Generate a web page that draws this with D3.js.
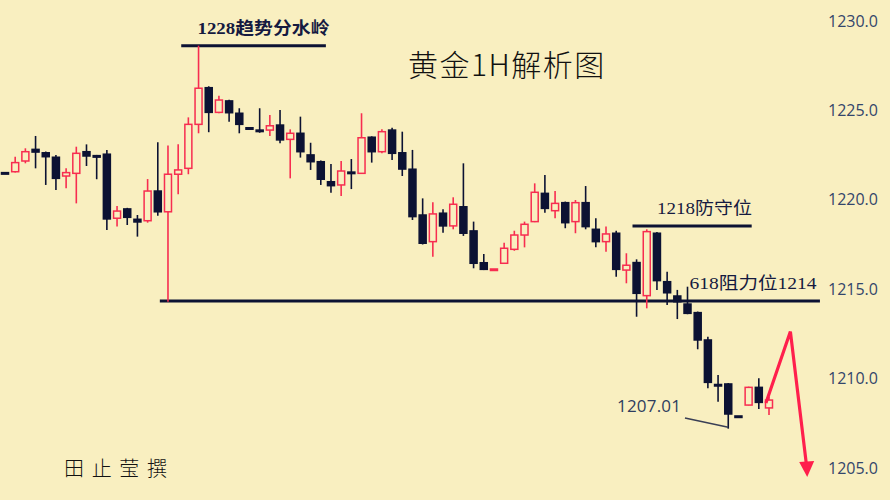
<!DOCTYPE html>
<html>
<head>
<meta charset="utf-8">
<script src="https://cdn.jsdelivr.net/npm/d3@7"></script>
<style>
  html, body { margin: 0; padding: 0; background: #f9efc0; }
  svg { display: block; }
</style>
</head>
<body>
<svg id="chart" width="890" height="500"></svg>
<script>
// hourly gold candles
const opens = [1221.52,1221.57,1222.17,1222.82,1222.63,1222.38,1221.33,1221.48,1222.69,1222.47,
  1222.55,1218.97,1219.49,1218.91,1218.83,1220.49,1219.33,1221.43,1221.76,1224.22,
  1226.27,1224.89,1225.53,1224.84,1224.03,1223.90,1223.90,1224.18,1223.38,1223.72,
  1222.51,1222.13,1221.01,1220.83,1221.55,1221.48,1223.50,1222.69,1223.90,1222.63,
  1221.71,1219.15,1217.66,1219.25,1218.54,1219.61,1218.26,1216.48,1216.11,1216.45,
  1217.23,1218.03,1218.78,1220.36,1219.39,1219.84,1218.78,1219.84,1218.35,1217.66,
  1218.13,1216.07,1216.49,1214.64,1218.13,1215.42,1214.62,1214.17,1213.69,1212.16,
  1209.67,1209.70,1207.91,1208.52,1209.51,1208.36];
const highs = [1221.55,1222.41,1222.88,1223.57,1222.70,1222.51,1221.76,1222.97,1223.10,1222.51,
  1222.79,1219.65,1219.55,1219.15,1221.16,1223.22,1223.03,1223.10,1224.61,1228.62,
  1226.35,1225.82,1225.60,1225.12,1224.03,1225.12,1224.74,1225.02,1223.94,1224.65,
  1223.19,1222.20,1222.00,1222.17,1222.28,1224.84,1223.55,1223.94,1224.03,1223.81,
  1222.79,1220.08,1219.86,1219.47,1220.14,1222.04,1218.78,1216.97,1216.13,1217.60,
  1218.27,1218.78,1220.92,1221.39,1220.49,1219.90,1219.99,1220.77,1218.97,1218.50,
  1218.27,1217.01,1216.67,1218.35,1218.20,1215.98,1214.96,1215.14,1213.75,1212.34,
  1210.20,1209.75,1207.91,1209.55,1210.02,1208.99];
const lows = [1221.50,1221.52,1222.04,1221.76,1220.83,1220.55,1220.64,1219.80,1221.89,1221.15,
  1218.31,1218.50,1218.59,1217.94,1218.72,1219.11,1214.30,1220.31,1221.43,1223.72,
  1223.78,1224.84,1224.37,1223.72,1224.01,1223.75,1223.57,1223.16,1221.20,1222.36,
  1221.67,1220.83,1220.40,1220.21,1220.60,1221.45,1222.08,1222.60,1222.23,1221.33,
  1218.87,1217.50,1216.82,1218.16,1218.35,1217.98,1216.17,1216.07,1216.11,1216.42,
  1217.15,1217.34,1218.75,1219.28,1218.97,1218.41,1218.13,1218.35,1217.34,1217.10,
  1215.70,1215.33,1213.46,1213.93,1214.96,1214.12,1213.33,1213.60,1211.64,1209.46,
  1208.71,1207.20,1207.89,1208.50,1208.30,1207.96];
const closes = [1221.50,1222.08,1222.69,1222.67,1222.41,1221.20,1221.52,1222.60,1222.45,1222.45,
  1218.93,1219.37,1219.02,1218.76,1220.49,1219.33,1221.43,1221.67,1224.22,1226.24,
  1224.89,1225.58,1224.87,1224.22,1224.01,1223.87,1224.14,1223.35,1223.72,1222.69,
  1222.13,1221.15,1220.79,1221.61,1221.52,1223.47,1222.69,1223.81,1222.60,1221.72,
  1219.06,1217.57,1219.21,1218.54,1219.75,1218.13,1216.45,1216.11,1216.13,1217.29,
  1218.03,1218.63,1220.42,1219.52,1219.80,1218.72,1219.84,1218.50,1217.66,1218.09,
  1216.11,1216.34,1214.77,1218.22,1215.48,1214.80,1214.30,1213.65,1212.16,1209.79,
  1209.64,1208.02,1207.89,1209.51,1208.67,1208.80];

const yTicks = [1205, 1210, 1215, 1220, 1225, 1230];

// drawn levels: [fromIndex, toIndex, price]
const levelLines = [[17.3, 31.5, 1228.62], [15.2, 80, 1214.34], [61.6, 73.3, 1218.53]];
const lowLine = [[66.75, 1207.80], [71.0, 1207.28]];
const forecast = [[74.7, 1208.64], [77.1, 1212.63], [78.65, 1205.30]];
const arrowTip = [78.75, 1204.5];

const notes = [
  { text: "1228趋势分水岭", i: 18.9, p: 1229.3, size: 17, len: 132, bold: true },
  { text: "1218防守位", i: 64.0, p: 1219.2, size: 17, len: 95, bold: false },
  { text: "618阻力位1214", i: 67.2, p: 1215.0, size: 17, len: 127, bold: false }
];

const W = 890, H = 500;
const red = "#f72d50", dark = "#0c1233", bg = "#f9efc0";

const svg = d3.select("#chart");
svg.append("rect").attr("width", W).attr("height", H).attr("fill", bg);

const x = d3.scaleLinear().domain([0, opens.length - 1]).range([5, 769]);
const y = d3.scaleLinear().domain([1205, 1230]).range([468, 21]);

// price axis on the right
const axis = svg.append("g")
  .attr("transform", "translate(828,0)")
  .call(d3.axisRight(y).tickValues(yTicks).tickSize(0).tickPadding(0).tickFormat(d3.format(".1f")));
axis.select(".domain").remove();
axis.selectAll("text")
  .attr("fill", "#34466b")
  .style("font-family", "'Open Sans', 'Noto Sans', sans-serif")
  .style("font-size", "16px");

// level lines
svg.selectAll("line.level")
  .data(levelLines)
  .join("line")
  .attr("class", "level")
  .attr("x1", d => x(d[0]))
  .attr("x2", d => x(d[1]))
  .attr("y1", d => y(d[2]))
  .attr("y2", d => y(d[2]))
  .attr("stroke", dark)
  .attr("stroke-width", 3);

// candles
const candles = d3.range(opens.length).map(i => ({
  i, o: opens[i], h: highs[i], l: lows[i], c: closes[i], up: closes[i] > opens[i]
}));
const bw = 7;

const g = svg.append("g");
g.selectAll("line.wick")
  .data(candles)
  .join("line")
  .attr("class", "wick")
  .attr("x1", d => x(d.i))
  .attr("x2", d => x(d.i))
  .attr("y1", d => y(d.h))
  .attr("y2", d => y(d.l))
  .attr("stroke", d => d.up ? red : dark)
  .attr("stroke-width", 1.6);

g.selectAll("rect.body")
  .data(candles)
  .join("rect")
  .attr("class", "body")
  .attr("x", d => x(d.i) - bw / 2)
  .attr("width", bw)
  .attr("y", d => y(Math.max(d.o, d.c)))
  .attr("height", d => Math.max(1.5, Math.abs(y(d.o) - y(d.c))))
  .attr("fill", d => d.up ? bg : dark)
  .attr("stroke", d => d.up ? red : dark)
  .attr("stroke-width", 1.5);

// line under the 1207.01 low
svg.append("path")
  .attr("d", d3.line().x(d => x(d[0])).y(d => y(d[1]))(lowLine))
  .attr("fill", "none")
  .attr("stroke", "#3a3f55")
  .attr("stroke-width", 1.5);

// red forecast arrow
svg.append("path")
  .attr("d", d3.line().x(d => x(d[0])).y(d => y(d[1]))(forecast))
  .attr("fill", "none")
  .attr("stroke", "#ff1f4c")
  .attr("stroke-width", 3.2)
  .attr("stroke-linejoin", "miter");

const tx = x(arrowTip[0]), ty = y(arrowTip[1]);
svg.append("path")
  .attr("d", `M${tx},${ty} L${tx - 8},${ty - 15} L${tx + 7},${ty - 16} Z`)
  .attr("fill", "#ff1f4c");

// annotations
svg.selectAll("text.note")
  .data(notes)
  .join("text")
  .attr("class", "note")
  .attr("x", d => x(d.i))
  .attr("y", d => y(d.p))
  .attr("textLength", d => d.len)
  .attr("lengthAdjust", "spacingAndGlyphs")
  .attr("fill", "#151a40")
  .style("font-family", "'Liberation Serif', 'Noto Sans CJK SC', serif")
  .style("font-weight", d => d.bold ? "700" : "400")
  .style("font-size", d => d.size + "px")
  .text(d => d.text);

svg.append("text")
  .attr("x", 617)
  .attr("y", 412)
  .attr("textLength", 64)
  .attr("fill", "#2f3d5e")
  .style("font-family", "'Open Sans', 'Noto Sans', sans-serif")
  .style("font-size", "17px")
  .text("1207.01");

svg.append("text")
  .attr("x", 408)
  .attr("y", 76)
  .attr("fill", "#111")
  .style("font-family", "'Noto Sans CJK SC', sans-serif")
  .style("font-weight", "300")
  .style("font-size", "30px")
  .style("letter-spacing", "1.5px")
  .text("黄金1H解析图");

svg.append("text")
  .attr("x", 64)
  .attr("y", 476)
  .attr("textLength", 103)
  .attr("lengthAdjust", "spacing")
  .attr("fill", "#111")
  .style("font-family", "'Noto Sans CJK SC', sans-serif")
  .style("font-weight", "300")
  .style("font-size", "20px")
  .text("田止莹撰");
</script>
</body>
</html>
